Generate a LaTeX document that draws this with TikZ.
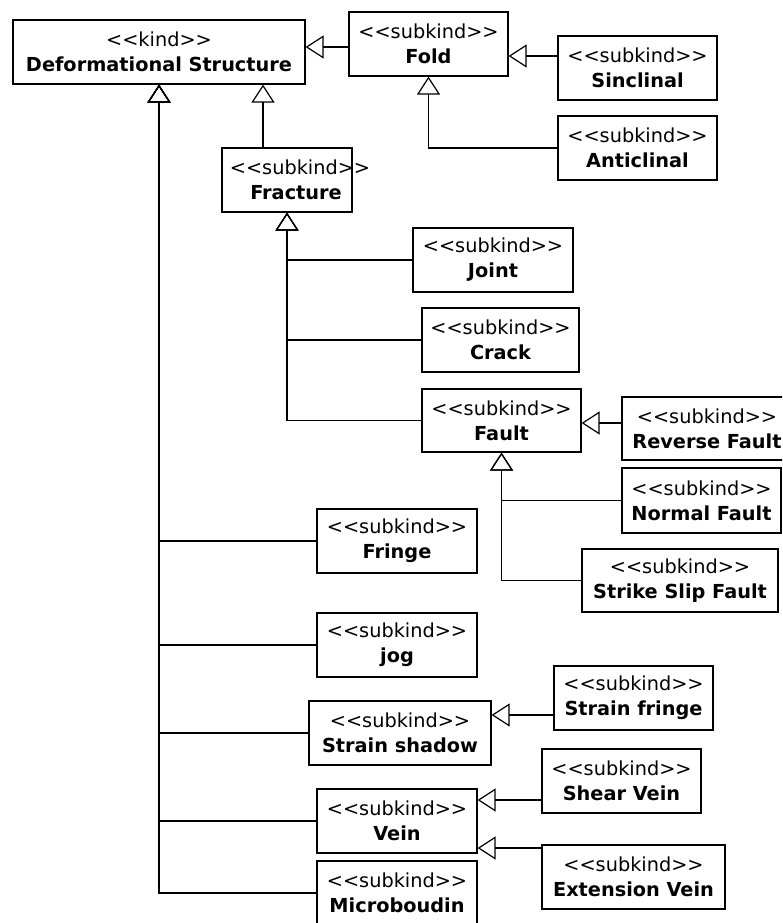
\documentclass[tikz,border=0pt]{standalone}
\usepackage{fontspec}
\setmainfont{DejaVu Sans}[Ligatures=TeXOff]
\usetikzlibrary{arrows.meta}
% class box text: stereotype line over a bold name, both centred on the box
\newcommand{\umltext}[2]{\makebox[0pt]{#1}\\\makebox[0pt]{\bfseries #2}}
\begin{document}
\begin{tikzpicture}[x=1pt,y=-1pt,
  cls/.style={draw, line width=1.2pt, rectangle, inner sep=0pt,
    minimum height=64pt, align=center, fill=white,
    font=\fontsize{19.3}{25}\selectfont},
  gen/.style={line width=1.2pt,
    -{Triangle[open, length=18pt, width=23pt]}},
]
\path[use as bounding box, clip] (0,0) rectangle (782,923);
\fill[white] (0,0) rectangle (782,923);

% classes
\node[cls, minimum width=292pt] (ds) at (159,52) {\umltext{<<kind>>}{Deformational Structure}};
\node[cls, minimum width=159pt] (fold) at (428.5,44) {\umltext{<<subkind>>}{Fold}};
\node[cls, minimum width=159pt] (sinclinal) at (637.5,68) {\umltext{<<subkind>>}{Sinclinal}};
\node[cls, minimum width=159pt] (anticlinal) at (637.5,148) {\umltext{<<subkind>>}{Anticlinal}};
\node[cls, minimum width=130pt] (fracture) at (287,180)
  {\makebox[0pt]{\hspace*{26pt}<<subkind>>}\\\makebox[0pt]{\hspace*{18pt}\bfseries Fracture}};
\node[cls, minimum width=160pt] (joint) at (493,260) {\umltext{<<subkind>>}{Joint}};
\node[cls, minimum width=157pt] (crack) at (500.5,340) {\umltext{<<subkind>>}{Crack}};
\node[cls, minimum width=159pt, minimum height=63pt] (fault) at (501.5,420.5) {\umltext{<<subkind>>}{Fault}};
\node[cls, minimum width=170pt, minimum height=63pt] (reverse) at (707,428.5) {\umltext{<<subkind>>}{Reverse Fault}};
\node[cls, minimum width=159pt, minimum height=65pt] (normal) at (701.5,500.5) {\umltext{<<subkind>>}{Normal Fault}};
\node[cls, minimum width=196pt, minimum height=63pt] (strike) at (680,580.5) {\umltext{<<subkind>>}{Strike Slip Fault}};
\node[cls, minimum width=160pt] (fringe) at (397,541) {\umltext{<<subkind>>}{Fringe}};
\node[cls, minimum width=160pt] (jog) at (397,645) {\umltext{<<subkind>>}{jog}};
\node[cls, minimum width=182pt] (shadow) at (400,733) {\umltext{<<subkind>>}{Strain shadow}};
\node[cls, minimum width=159pt] (strainfringe) at (633.5,698) {\umltext{<<subkind>>}{Strain fringe}};
\node[cls, minimum width=159pt] (shear) at (621.5,781) {\umltext{<<subkind>>}{Shear Vein}};
\node[cls, minimum width=183pt] (extension) at (633.5,877) {\umltext{<<subkind>>}{Extension Vein}};
\node[cls, minimum width=160pt] (vein) at (397,821) {\umltext{<<subkind>>}{Vein}};
\node[cls, minimum width=160pt] (micro) at (397,893) {\umltext{<<subkind>>}{Microboudin}};

% generalizations
\draw[gen] (fold.west |- 0,47) -- (ds.east |- 0,47);
\draw[gen] (sinclinal.west |- 0,56) -- (fold.east |- 0,56);
\draw[gen] (anticlinal.west) -| (fold.south);
\draw[gen] (fracture.north -| 263,0) -- (ds.south -| 263,0);

\draw[gen] (joint.west) -| (fracture.south);
\draw[gen] (crack.west) -| (fracture.south);
\draw[gen] (fault.west) -| (fracture.south);

\draw[gen] (reverse.west |- 0,423) -- (fault.east |- 0,423);
\draw[gen] (normal.west) -| (fault.south);
\draw[gen] (strike.west) -| (fault.south);

\draw[gen] (fringe.west) -| (ds.south);
\draw[gen] (jog.west) -| (ds.south);
\draw[gen] (shadow.west) -| (ds.south);
\draw[gen] (vein.west) -| (ds.south);
\draw[gen] (micro.west) -| (ds.south);

\draw[gen] (strainfringe.west |- 0,715) -- (shadow.east |- 0,715);
\draw[gen] (shear.west |- 0,800) -- (vein.east |- 0,800);
\draw[gen] (extension.west |- 0,848) -- (vein.east |- 0,848);
\end{tikzpicture}
\end{document}
